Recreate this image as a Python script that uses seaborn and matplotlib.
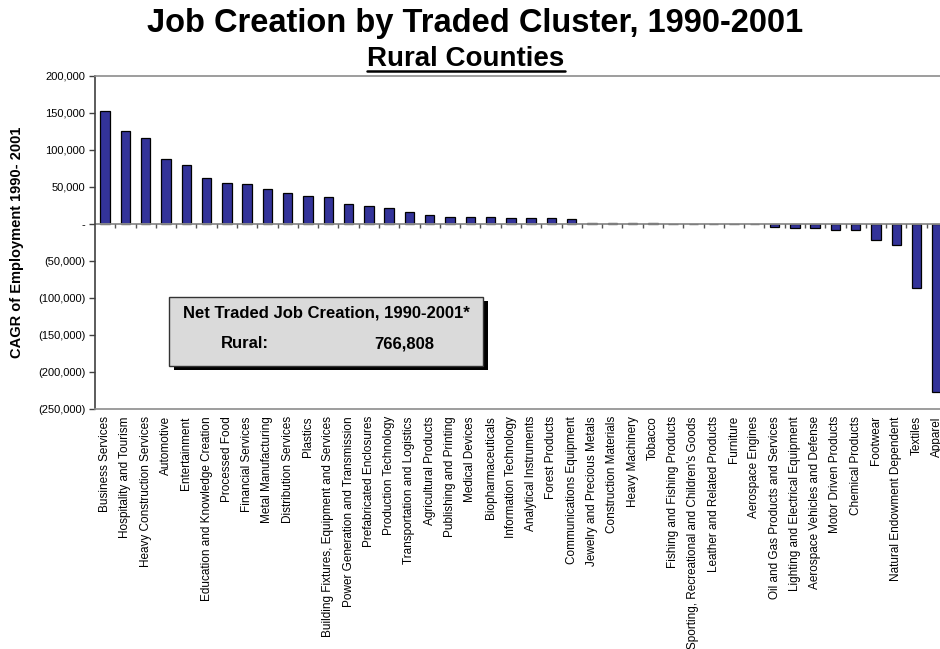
import numpy as np
import pandas as pd
import matplotlib
matplotlib.use("Agg")
import matplotlib.pyplot as plt
from matplotlib.ticker import FuncFormatter, MultipleLocator
from matplotlib.patches import Rectangle
from matplotlib.lines import Line2D
import seaborn as sns

# Net job creation by traded cluster, rural counties, 1990-2001
clusters = [
    "Business Services", "Hospitality and Tourism", "Heavy Construction Services",
    "Automotive", "Entertainment", "Education and Knowledge Creation",
    "Processed Food", "Financial Services", "Metal Manufacturing",
    "Distribution Services", "Plastics", "Building Fixtures, Equipment and Services",
    "Power Generation and Transmission", "Prefabricated Enclosures",
    "Production Technology", "Transportation and Logistics", "Agricultural Products",
    "Publishing and Printing", "Medical Devices", "Biopharmaceuticals",
    "Information Technology", "Analytical Instruments", "Forest Products",
    "Communications Equipment", "Jewelry and Precious Metals",
    "Construction Materials", "Heavy Machinery", "Tobacco",
    "Fishing and Fishing Products", "Sporting, Recreational and Children's Goods",
    "Leather and Related Products", "Furniture", "Aerospace Engines",
    "Oil and Gas Products and Services", "Lighting and Electrical Equipment",
    "Aerospace Vehicles and Defense", "Motor Driven Products", "Chemical Products",
    "Footwear", "Natural Endowment Dependent", "Textiles", "Apparel",
]
job_change = [
    152000, 125000, 116500, 87000, 80000, 62500, 55500, 53500, 47000, 41500,
    38000, 36000, 27500, 24000, 21000, 15500, 12500, 10000, 10000, 9500,
    8300, 8300, 8300, 6800, 1800, 1600, 1600, 1700, 400, 0,
    -400, -500, -700, -4500, -5800, -6000, -8400, -8100, -22000, -29000,
    -86500, -226000,
]
y_ticks = [200000, 150000, 100000, 50000, 0, -50000, -100000, -150000, -200000, -250000]

title = "Job Creation by Traded Cluster, 1990-2001"
subtitle = "Rural Counties"
y_label = "CAGR of Employment 1990- 2001"
box_heading = "Net Traded Job Creation, 1990-2001*"
box_region = "Rural:"
box_total = "766,808"

df = pd.DataFrame({"cluster": clusters, "jobs": job_change})

sns.set_theme(style="white")
plt.rcParams["font.family"] = ["Liberation Sans", "DejaVu Sans"]
plt.rcParams.update({"text.color": "black", "axes.labelcolor": "black",
                     "xtick.color": "black", "ytick.color": "black"})

W, H = 940, 649
fig = plt.figure(figsize=(W / 100, H / 100), dpi=100)
ax = fig.add_axes([95 / W, 1 - 409.3 / H, 852 / W, (409.3 - 75.7) / H])

sns.barplot(data=df, x="cluster", y="jobs", order=clusters, color="#333399",
            saturation=1, edgecolor="black", linewidth=0.9, width=0.46, ax=ax)

ax.set_ylim(min(y_ticks), max(y_ticks))
ax.set_xlim(-0.5, len(clusters) - 0.5)
ax.yaxis.set_major_locator(MultipleLocator(50000))


def fmt(v, pos):
    if abs(v) < 1:
        return "-"
    if v < 0:
        return "({:,.0f})".format(-v)
    return "{:,.0f}".format(v)


ax.yaxis.set_major_formatter(FuncFormatter(fmt))
ax.tick_params(axis="y", which="major", direction="out", length=4, width=1,
               color="#404040", labelsize=8, pad=3, left=True, labelcolor="black")
ax.tick_params(axis="x", length=0, pad=5, labelsize=8.5, labelcolor="black")
plt.setp(ax.get_xticklabels(), rotation=90, ha="center", va="top")
ax.set_xlabel("")
ax.set_ylabel(y_label, fontsize=10.5, fontweight="bold", labelpad=10)

for side in ["top", "bottom"]:
    ax.spines[side].set_color("#8c8c8c")
    ax.spines[side].set_linewidth(1.2)
ax.spines["left"].set_color("#404040")
ax.spines["left"].set_linewidth(1.2)
ax.spines["right"].set_visible(False)

# zero line with category-boundary ticks hanging below it
ax.axhline(0, color="#8c8c8c", lw=1.3, zorder=1)
span = max(y_ticks) - min(y_ticks)
tick_len = 4.5 * span / (409.3 - 75.7)
bounds = np.arange(len(clusters)) + 0.5
ax.vlines(bounds, 0, -tick_len, color="#555555", lw=1, zorder=1)

# figure titles
fig.text(475 / W, 1 - 32 / H, title, ha="center", va="baseline",
         fontsize=23.5, fontweight="bold")
sub = fig.text(466 / W, 1 - 66 / H, subtitle, ha="center", va="baseline",
               fontsize=20, fontweight="bold")
fig.canvas.draw()
bb = sub.get_window_extent().transformed(fig.transFigure.inverted())
uy = 1 - 70.5 / H
fig.add_artist(Line2D([bb.x0, bb.x1], [uy, uy], transform=fig.transFigure,
                      color="black", lw=1.8))

# summary box with drop shadow
bx0, by0, bx1, by1 = 169.3, 296.7, 483.3, 365.5
shadow = Rectangle(((bx0 + 5) / W, 1 - (by1 + 4) / H), (bx1 - bx0) / W, (by1 - by0) / H,
                   transform=fig.transFigure, facecolor="black", edgecolor="none", zorder=5)
box = Rectangle((bx0 / W, 1 - by1 / H), (bx1 - bx0) / W, (by1 - by0) / H,
                transform=fig.transFigure, facecolor="#dadada", edgecolor="#333333",
                lw=1, zorder=6)
fig.add_artist(shadow)
fig.add_artist(box)
fig.text(326.5 / W, 1 - 312.5 / H, box_heading, ha="center", va="center",
         fontsize=12, fontweight="bold", zorder=7)
fig.text(245 / W, 1 - 344 / H, box_region, ha="center", va="center",
         fontsize=12, fontweight="bold", zorder=7)
fig.text(404 / W, 1 - 344 / H, box_total, ha="center", va="center",
         fontsize=12, fontweight="bold", zorder=7)

fig.savefig("out.png", dpi=100)
